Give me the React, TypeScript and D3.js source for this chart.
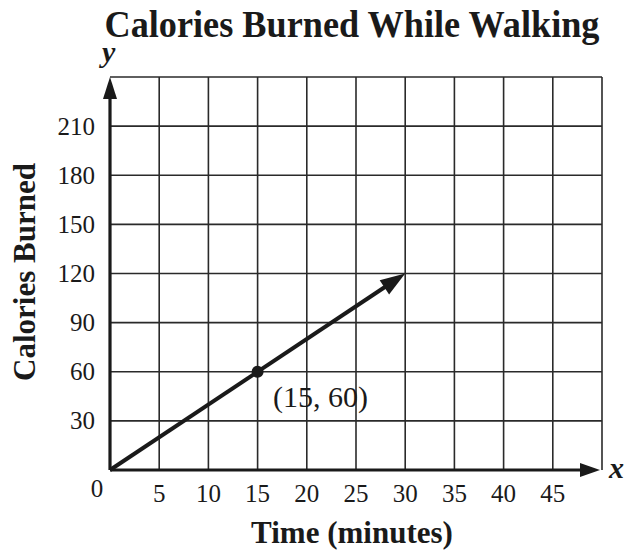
import React from "react";
import * as d3 from "d3";

const title = "Calories Burned While Walking";
const xLabel = "Time (minutes)";
const yLabel = "Calories Burned";
const xTicks = [5, 10, 15, 20, 25, 30, 35, 40, 45];
const yTicks = [30, 60, 90, 120, 150, 180, 210];
const xGrid = [5, 10, 15, 20, 25, 30, 35, 40, 45, 50];
const yGrid = [30, 60, 90, 120, 150, 180, 210, 240];
const lineStart = [0, 0];
const lineEnd = [30, 120];
const point = [15, 60];
const pointLabel = "(15, 60)";

const W = 629;
const H = 552;
const font = "'Liberation Serif', 'Times New Roman', serif";

export default function App() {
  const x = d3.scaleLinear().domain([0, 50]).range([110, 602]);
  const y = d3.scaleLinear().domain([0, 240]).range([470, 77]);

  const x0 = x(0), y0 = y(0), xMax = x(50), yMax = y(240);

  // data line with arrowhead
  const sx = x(lineStart[0]), sy = y(lineStart[1]);
  const ex = x(lineEnd[0]), ey = y(lineEnd[1]);
  const dx = ex - sx, dy = ey - sy;
  const len = Math.hypot(dx, dy);
  const ux = dx / len, uy = dy / len;
  const px = -uy, py = ux;
  const headL = 25, headW = 8.5;
  const bx = ex - ux * headL, by = ey - uy * headL;
  const head = `M${ex},${ey}L${bx + px * headW},${by + py * headW}L${bx - px * headW},${by - py * headW}Z`;

  const lineGen = d3.line();

  return (
    <svg width={W} height={H} style={{ position: "absolute", left: 0, top: 0, background: "#fff" }} fontFamily={font}>
      <rect width={W} height={H} fill="#fff" />
      {/* grid */}
      {xGrid.map((v) => (
        <line key={"gx" + v} x1={x(v)} x2={x(v)} y1={yMax} y2={y0} stroke="#2a2a2a" strokeWidth={1.6} />
      ))}
      {yGrid.map((v) => (
        <line key={"gy" + v} x1={x0} x2={xMax} y1={y(v)} y2={y(v)} stroke="#2a2a2a" strokeWidth={1.6} />
      ))}
      {/* axes */}
      <line x1={x0} x2={xMax - 18} y1={y0} y2={y0} stroke="#1a1a1a" strokeWidth={3.2} />
      <path d={`M${xMax - 2},${y0}L${xMax - 22},${y0 - 7}L${xMax - 22},${y0 + 7}Z`} fill="#1a1a1a" />
      <line x1={x0} x2={x0} y1={y0} y2={yMax + 18} stroke="#1a1a1a" strokeWidth={3.2} />
      <path d={`M${x0},${yMax}L${x0 - 7},${yMax + 22}L${x0 + 7},${yMax + 22}Z`} fill="#1a1a1a" />
      {/* data line */}
      <path d={lineGen([[sx, sy], [bx + ux * 2, by + uy * 2]]) || ""} stroke="#1a1a1a" strokeWidth={4} fill="none" />
      <path d={head} fill="#1a1a1a" />
      <circle cx={x(point[0])} cy={y(point[1])} r={6} fill="#1a1a1a" />
      <text x={x(point[0]) + 63} y={y(point[1]) + 35} fontSize={30} textAnchor="middle" fill="#1a1a1a">{pointLabel}</text>
      {/* ticks */}
      {xTicks.map((v) => (
        <text key={"tx" + v} x={x(v)} y={502} fontSize={25} textAnchor="middle" fill="#1a1a1a">{v}</text>
      ))}
      <text x={97} y={497} fontSize={25} textAnchor="middle" fill="#1a1a1a">0</text>
      {yTicks.map((v) => (
        <text key={"ty" + v} x={95} y={y(v)} dy="0.34em" fontSize={25} textAnchor="end" fill="#1a1a1a">{v}</text>
      ))}
      {/* labels */}
      <text x={352} y={37} fontSize={38} fontWeight="bold" textAnchor="middle" textLength={495} lengthAdjust="spacingAndGlyphs" fill="#1a1a1a">{title}</text>
      <text x={352} y={543} fontSize={31} fontWeight="bold" textAnchor="middle" fill="#1a1a1a">{xLabel}</text>
      <text transform={`translate(35,272) rotate(-90)`} fontSize={31} fontWeight="bold" textAnchor="middle" fill="#1a1a1a">{yLabel}</text>
      <text x={102} y={62} fontSize={30} fontWeight="bold" fontStyle="italic" fill="#1a1a1a">y</text>
      <text x={609} y={478} fontSize={30} fontWeight="bold" fontStyle="italic" fill="#1a1a1a">x</text>
    </svg>
  );
}
